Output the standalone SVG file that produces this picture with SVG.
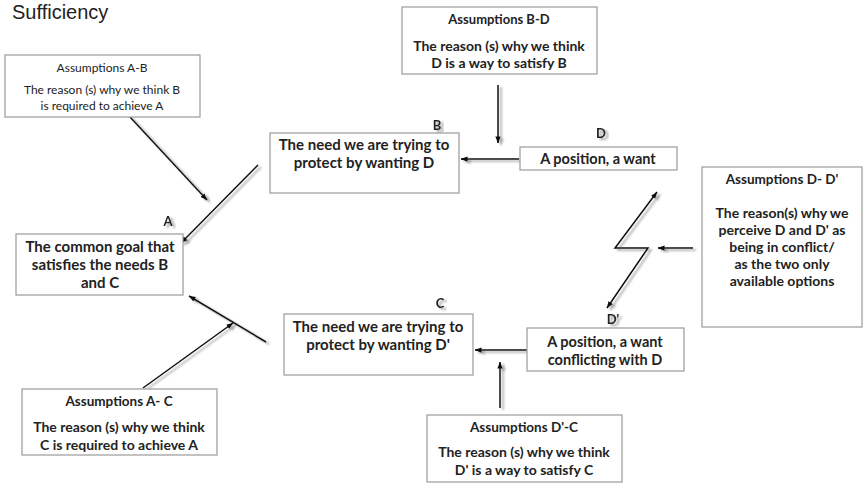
<svg xmlns="http://www.w3.org/2000/svg" width="867" height="483" viewBox="0 0 867 483">
<defs>
<style>
.box{fill:#fff;stroke:#9a9a9a;stroke-width:1.2}
.t{font-family:Lato,"Liberation Sans",sans-serif;font-weight:bold;fill:#222;text-anchor:middle}
.r{font-family:Lato,"Liberation Sans",sans-serif;font-weight:normal;fill:#222;text-anchor:middle}
.lbl{font-family:Lato,"Liberation Sans",sans-serif;font-weight:bold;font-size:13px;fill:#222;text-anchor:middle}
.c{fill:none;stroke:#111;stroke-width:1.5}
</style>
<marker id="ah" viewBox="0 0 8 6" refX="7.5" refY="3" markerWidth="7" markerHeight="6" markerUnits="userSpaceOnUse" orient="auto-start-reverse">
<path d="M0,0 L8,3 L0,6 z" fill="#111"/>
</marker>
<filter id="sh" x="-20%" y="-20%" width="140%" height="140%">
<feDropShadow dx="3" dy="2" stdDeviation="1.2" flood-color="#777" flood-opacity="0.7"/>
</filter>
</defs>
<rect width="867" height="483" fill="#fff"/>
<text x="12" y="19" font-family="'Liberation Sans',Arial,sans-serif" font-size="20" fill="#222">Sufficiency</text>

<g id="connectors" filter="url(#sh)">
<line class="c" x1="130" y1="117" x2="207" y2="200" marker-end="url(#ah)"/>
<line class="c" x1="258" y1="165" x2="181" y2="243" marker-end="url(#ah)"/>
<line class="c" x1="266" y1="342" x2="189" y2="296" marker-end="url(#ah)"/>
<line class="c" x1="143" y1="388" x2="233" y2="323" marker-end="url(#ah)"/>
<line class="c" x1="498" y1="85" x2="498" y2="143" marker-end="url(#ah)"/>
<line class="c" x1="519" y1="159" x2="461" y2="159" marker-end="url(#ah)"/>
<line class="c" x1="527" y1="350" x2="475" y2="350" marker-end="url(#ah)"/>
<line class="c" x1="500" y1="408" x2="500" y2="362" marker-end="url(#ah)"/>
<polyline class="c" points="607,308 648,248 615,248 657,192" marker-start="url(#ah)" marker-end="url(#ah)"/>
<line class="c" x1="693" y1="248" x2="658" y2="248" marker-end="url(#ah)"/>
</g>

<g id="assumptions-ab">
<rect class="box" x="5" y="55" width="195" height="62"/>
<text class="r" x="102" y="72" font-size="12">Assumptions A-B</text>
<text class="r" x="102" y="94" font-size="12">The reason (s) why we think B</text>
<text class="r" x="102" y="110" font-size="12">is required to achieve A</text>
</g>

<g id="assumptions-bd">
<rect class="box" x="402" y="7" width="195" height="67"/>
<text class="t" x="499" y="24" font-size="13">Assumptions B-D</text>
<text class="t" x="499" y="51" font-size="14">The reason (s) why we think</text>
<text class="t" x="499" y="68" font-size="14">D is a way to satisfy B</text>
</g>

<g id="node-b">
<rect class="box" x="270" y="133" width="189" height="60"/>
<text class="t" x="364" y="150" font-size="15">The need we are trying to</text>
<text class="t" x="364" y="168" font-size="15">protect by wanting D</text>
<text class="lbl" x="437" y="130" filter="url(#sh)">B</text>
</g>

<g id="node-d">
<rect class="box" x="520" y="147" width="157" height="23"/>
<text class="t" x="598" y="164" font-size="14.5">A position, a want</text>
<text class="lbl" x="601" y="138" filter="url(#sh)">D</text>
</g>

<g id="node-a">
<rect class="box" x="16" y="234" width="167" height="61"/>
<text class="t" x="100" y="252" font-size="15">The common goal that</text>
<text class="t" x="100" y="270" font-size="15">satisfies the needs B</text>
<text class="t" x="100" y="288" font-size="15">and C</text>
<text class="lbl" x="168" y="226" filter="url(#sh)">A</text>
</g>

<g id="assumptions-ddp">
<rect class="box" x="702" y="167" width="160" height="160"/>
<text class="t" x="782" y="184" font-size="13.5">Assumptions D- D'</text>
<text class="t" x="782" y="218" font-size="14">The reason(s) why we</text>
<text class="t" x="782" y="235" font-size="14">perceive D and D' as</text>
<text class="t" x="782" y="252" font-size="14">being in conflict/</text>
<text class="t" x="782" y="269" font-size="14">as the two only</text>
<text class="t" x="782" y="286" font-size="14">available options</text>
</g>

<g id="node-c">
<rect class="box" x="284" y="314" width="189" height="61"/>
<text class="t" x="378" y="332" font-size="15">The need we are trying to</text>
<text class="t" x="378" y="350" font-size="15">protect by wanting D'</text>
<text class="lbl" x="440" y="308" filter="url(#sh)">C</text>
</g>

<g id="node-dp">
<rect class="box" x="527" y="328" width="157" height="43"/>
<text class="t" x="605" y="347" font-size="14.5">A position, a want</text>
<text class="t" x="605" y="365" font-size="14.5">conflicting with D</text>
<text class="lbl" x="613" y="324" filter="url(#sh)">D'</text>
</g>

<g id="assumptions-ac">
<rect class="box" x="22" y="389" width="195" height="66"/>
<text class="t" x="119" y="406" font-size="13.5">Assumptions A- C</text>
<text class="t" x="119" y="432" font-size="14">The reason (s) why we think</text>
<text class="t" x="119" y="450" font-size="14">C is required to achieve A</text>
</g>

<g id="assumptions-dpc">
<rect class="box" x="427" y="415" width="195" height="67"/>
<text class="t" x="524" y="432" font-size="13.5">Assumptions D'-C</text>
<text class="t" x="524" y="457" font-size="14">The reason (s) why we think</text>
<text class="t" x="524" y="475" font-size="14">D' is a way to satisfy C</text>
</g>
</svg>
